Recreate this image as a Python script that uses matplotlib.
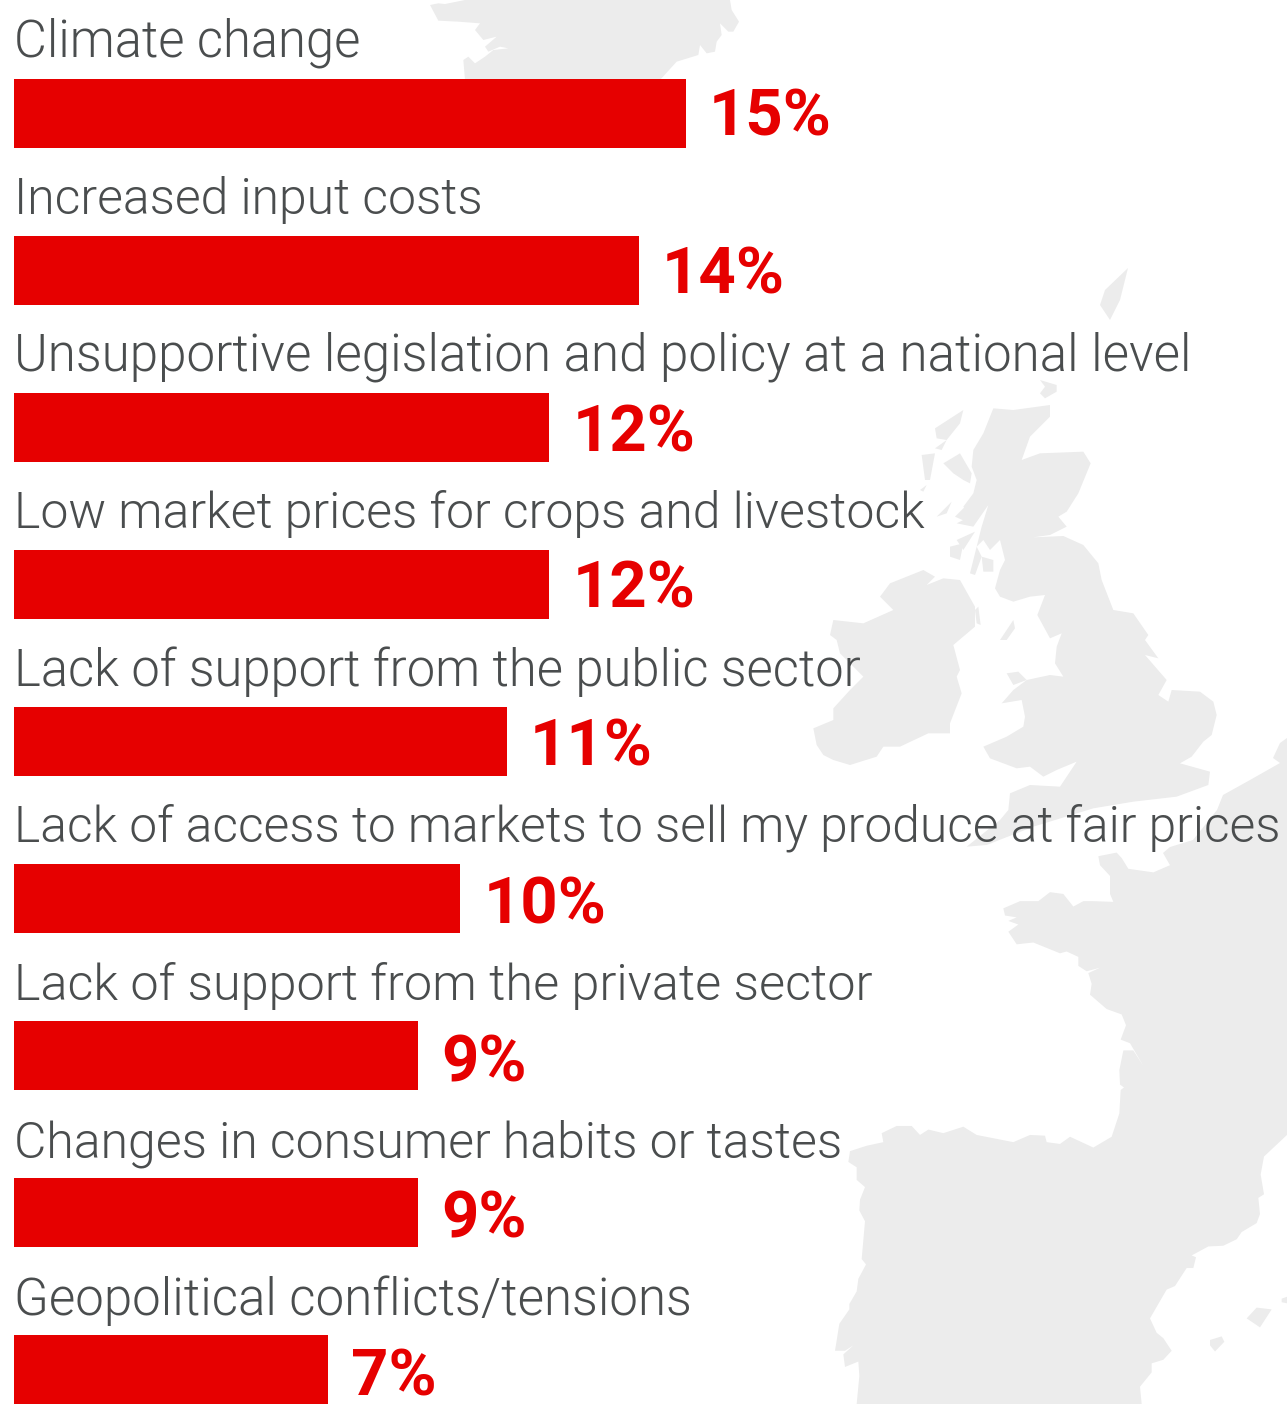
import matplotlib
matplotlib.use("Agg")
import matplotlib.pyplot as plt
from matplotlib.patches import Polygon

# valeurs
categories = [
    "Climate change",
    "Increased input costs",
    "Unsupportive legislation and policy at a national level",
    "Low market prices for crops and livestock",
    "Lack of support from the public sector",
    "Lack of access to markets to sell my produce at fair prices",
    "Lack of support from the private sector",
    "Changes in consumer habits or tastes",
    "Geopolitical conflicts/tensions",
]
values = [15.0, 13.95, 11.95, 11.95, 11.0, 9.96, 9.02, 9.02, 7.02]
labels = ["15%", "14%", "12%", "12%", "11%", "10%", "9%", "9%", "7%"]

RED = "#e60000"
GREY_TEXT = "#4a4d4e"
GREY_MAP = "#ececec"
PX = 0.72  # 1 pixel en points a 100 dpi

# reglages ligne par ligne du texte (la police d'origine n'est pas dispo)
title_sizes = [36.5, 35.9, 36.85, 36.0, 36.5, 35.8, 36.3, 36.0, 36.7]
title_gap = [22, 22, 22, 22, 21, 23, 21, 21, 20]
pct_drop = [21.5, 23.5, 23.5, 23.5, 24.5, 25.5, 25.5, 25.5, 25.5]


def z1(pts):
    return [(800 + x / 3, 380 + y / 3) for x, y in pts]


def z2(pts):
    return [(800 + x / 3, 840 + y * 564 / 1568) for x, y in pts]


def z3(pts):
    return [(400 + x / 3, y / 3) for x, y in pts]


# fond de carte (decor), contours releves a la main en pixels
britain = z1([(580, 85), (640, 90), (750, 75), (750, 110), (690, 170), (665, 240), (720, 220), (850, 215),
              (872, 250), (835, 340), (800, 395), (775, 410), (800, 440), (750, 465), (700, 472), (790, 468),
              (850, 495), (895, 550), (905, 600), (940, 690), (1000, 700), (1045, 765), (1035, 780), (1075, 835),
              (1035, 825), (1100, 900), (1075, 945), (1105, 965), (1115, 930), (1200, 935), (1240, 965),
              (1250, 1005), (1235, 1065), (1210, 1085), (1175, 1130), (1140, 1150), (1230, 1175), (1225, 1215),
              (1130, 1250), (1000, 1265), (880, 1285), (700, 1340), (560, 1395), (500, 1400), (600, 1320),
              (625, 1290), (630, 1240), (690, 1215), (780, 1220), (830, 1145), (770, 1170), (730, 1190),
              (690, 1160), (650, 1165), (570, 1135), (550, 1100), (620, 1070), (670, 1040), (675, 1010),
              (665, 960), (605, 970), (640, 930), (680, 900), (750, 885), (790, 890), (765, 850), (770, 800),
              (785, 760), (750, 775), (712, 705), (735, 645), (690, 650), (640, 665), (600, 650), (585, 625),
              (600, 570), (615, 540), (600, 480), (570, 510), (550, 480), (530, 500), (545, 440), (565, 375),
              (520, 440), (470, 430), (510, 410), (490, 380), (520, 340), (530, 300), (515, 260), (520, 210),
              (550, 160)])
ireland = z1([(270, 610), (370, 570), (405, 590), (380, 615), (430, 595), (480, 600), (525, 680), (525, 740),
              (460, 795), (480, 870), (470, 890), (485, 940), (450, 1030), (450, 1060), (385, 1060), (300, 1100),
              (250, 1100), (230, 1130), (150, 1155), (100, 1140), (70, 1125), (50, 1095), (40, 1045), (100, 1020),
              (100, 985), (190, 970), (100, 985), (150, 930), (190, 890), (120, 820), (110, 780), (90, 765),
              (100, 720), (190, 730), (280, 690), (240, 650)])
islands_uk = [
    [(600, 780), (640, 720), (645, 745), (620, 780)],
    [(620, 880), (655, 875), (680, 900), (640, 915)],
    [(405, 145), (490, 90), (480, 130), (440, 180), (410, 175)],
    [(405, 205), (440, 180), (425, 210)],
    [(365, 225), (405, 220), (390, 300), (375, 300)],
    [(360, 330), (380, 315), (370, 335)],
    [(430, 250), (480, 220), (515, 280), (510, 310), (490, 300), (460, 280)],
    [(410, 410), (455, 365), (440, 400)],
    [(465, 410), (500, 375), (530, 400), (510, 430)],
    [(450, 500), (490, 490), (480, 540), (450, 530)],
    [(470, 480), (525, 455), (490, 510)],
    [(545, 530), (580, 540), (580, 575), (550, 575)],
    [(510, 580), (530, 500), (545, 530), (525, 585)],
    [(720, 0), (770, 15), (770, 35), (735, 55), (720, 40), (735, 20)],
    [(525, 690), (535, 680), (542, 735), (530, 730)],
]
shetland = [(1105, 290), (1128, 268), (1120, 300), (1110, 320), (1100, 305)]
north = z3([(90, 15), (115, 10), (135, 12), (195, 0), (990, 0), (995, 30), (1017, 65), (1000, 95), (985, 95),
            (960, 70), (965, 105), (950, 125), (945, 155), (920, 160), (900, 135), (895, 165), (830, 185),
            (780, 240), (195, 240), (190, 180), (205, 170), (225, 190), (255, 170), (280, 150), (325, 145),
            (300, 140), (265, 155), (255, 140), (290, 110), (250, 120), (225, 90), (240, 70), (175, 65), (115, 62)])
continent = [(1287, 738), (1280, 743), (1273, 758), (1280, 763), (1250, 780), (1223, 795), (1217, 810), (1193, 840),
             (1170, 847), (1163, 853)] + z2([(1110, 70), (1060, 90), (985, 80), (965, 50), (950, 35), (895, 45),
             (900, 70), (930, 100), (930, 150), (940, 172), (880, 170), (850, 170), (820, 185), (790, 150),
             (750, 145), (715, 170), (660, 170), (610, 190), (615, 210), (650, 215), (625, 225), (655, 235),
             (625, 255), (650, 290), (700, 285), (780, 315), (800, 310), (835, 325), (835, 350), (860, 365),
             (900, 355), (865, 370), (875, 400), (870, 430), (920, 470), (965, 485), (978, 515), (962, 555),
             (990, 565), (1030, 628), (1000, 585), (970, 585), (958, 640), (960, 680), (972, 688), (962, 695),
             (958, 760), (935, 825), (880, 855), (810, 825), (780, 845), (740, 840), (735, 822), (690, 820),
             (640, 840), (530, 820), (490, 797), (430, 815), (385, 805), (360, 820), (335, 795), (290, 795),
             (245, 815), (250, 840), (200, 850), (150, 865), (145, 895), (170, 910), (170, 945), (195, 965),
             (180, 1000), (178, 1030), (195, 1060), (185, 1165), (198, 1180), (175, 1220), (170, 1255),
             (148, 1290), (148, 1305), (118, 1345), (105, 1420), (135, 1420), (160, 1405), (130, 1430),
             (135, 1465), (175, 1450), (178, 1490), (170, 1568), (1025, 1568), (1020, 1520), (1055, 1480),
             (1055, 1455), (1090, 1445), (1115, 1420), (1090, 1385), (1070, 1370), (1050, 1330), (1100, 1250),
             (1125, 1240), (1160, 1190), (1180, 1190), (1188, 1160), (1175, 1155), (1225, 1130), (1270, 1128),
             (1310, 1110), (1325, 1090), (1370, 1065), (1380, 1040), (1375, 995), (1392, 985), (1382, 930),
             (1392, 880), (1461, 820)])
islands_es = [
    [(1340, 1330), (1370, 1300), (1415, 1305), (1380, 1355)],
    [(1230, 1390), (1265, 1380), (1273, 1395), (1245, 1422), (1230, 1405)],
    [(1445, 1275), (1461, 1270), (1461, 1288), (1445, 1285)],
]

fig = plt.figure(figsize=(12.87, 14.04), dpi=100)

# carte en coordonnees pixels
bg = fig.add_axes([0, 0, 1, 1])
bg.set_xlim(0, 1287)
bg.set_ylim(1404, 0)
bg.axis("off")
shapes = [britain, ireland, shetland, north, continent]
shapes += [z1(p) for p in islands_uk] + [z2(p) for p in islands_es]
for s in shapes:
    bg.add_patch(Polygon(s, closed=True, facecolor=GREY_MAP, edgecolor="none"))

# barres
ax = fig.add_axes([0, 0, 1, 1])
ax.patch.set_alpha(0)
ax.set_xlim(-14 / 44.8, (1287 - 14) / 44.8)
ax.set_ylim((1404 - 113.5) / 157, -113.5 / 157)
ax.axis("off")

y = list(range(len(categories)))
ax.barh(y, values, height=69 / 157, color=RED)

for i in y:
    ax.annotate(categories[i], xy=(0, i - 34.5 / 157), xytext=(0, title_gap[i] * PX), textcoords="offset points",
                fontsize=title_sizes[i], family="Roboto", weight=300, color=GREY_TEXT, va="baseline", ha="left")
    ax.annotate(labels[i], xy=(values[i], i), xytext=(23 * PX, -pct_drop[i] * PX), textcoords="offset points",
                fontsize=47, family="Roboto", weight="bold", color=RED, va="baseline", ha="left")

fig.savefig("out.png", dpi=100)
